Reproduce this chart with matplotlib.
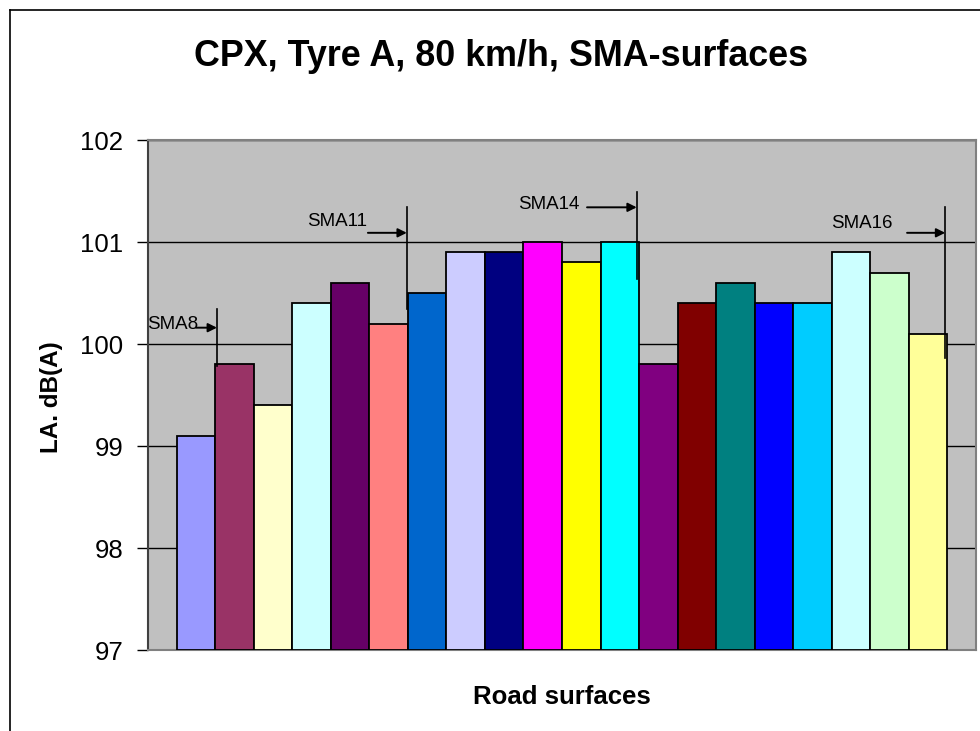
import matplotlib.pyplot as plt
from matplotlib.lines import Line2D

plt.rcParams["font.family"] = ["Liberation Sans", "DejaVu Sans"]

# CPX levels per road surface, Tyre A at 80 km/h
levels = [99.1, 99.8, 99.4, 100.4, 100.6, 100.2, 100.5, 100.9, 100.9, 101.0,
          100.8, 101.0, 99.8, 100.4, 100.6, 100.4, 100.4, 100.9, 100.7, 100.1]
colors = ["#9999FF", "#993366", "#FFFFCC", "#CCFFFF", "#660066", "#FF8080",
          "#0066CC", "#CCCCFF", "#000080", "#FF00FF", "#FFFF00", "#00FFFF",
          "#800080", "#800000", "#008080", "#0000FF", "#00CCFF", "#CCFFFF",
          "#CCFFCC", "#FFFF99"]
y_ticks = [97, 98, 99, 100, 101, 102]

# group markers: label, text anchor, arrow start, arrow end/line x, line span
groups = [
    ("SMA8", (-1.28, 100.19), (-0.0, 100.16), 0.54, (99.78, 100.34)),
    ("SMA11", (2.88, 101.20), (4.46, 101.09), 5.47, (100.34, 101.34)),
    ("SMA14", (8.36, 101.37), (10.15, 101.34), 11.44, (100.64, 101.49)),
    ("SMA16", (16.49, 101.18), (18.46, 101.09), 19.45, (99.86, 101.34)),
]

fig = plt.figure(figsize=(9.8, 7.31), dpi=100)
ax = fig.add_axes([148 / 980, 1 - 650 / 731, (976 - 148) / 980, (650 - 140) / 731])
ax.set_facecolor("#C0C0C0")

x = list(range(len(levels)))
ax.bar(x, [v - 97 for v in levels], bottom=97, width=1.0, color=colors,
       edgecolor="black", linewidth=1.3, zorder=3)

ax.set_xlim(-1.25, 20.25)
ax.set_ylim(97, 102)
ax.set_yticks(y_ticks)
ax.set_yticklabels([str(t) for t in y_ticks], fontsize=18.5)
ax.set_xticks([])
ax.yaxis.grid(True, color="black", linewidth=1.0, zorder=1)
ax.tick_params(axis="y", direction="out", length=8, width=1.0, pad=10)
for side in ["top", "right", "bottom"]:
    ax.spines[side].set_color("#808080")
    ax.spines[side].set_linewidth(1.5)
ax.spines["left"].set_color("#404040")
ax.spines["left"].set_linewidth(1.5)

for name, txt, a0, lx, (y0, y1) in groups:
    ax.text(txt[0], txt[1], name, fontsize=13.5, va="center", ha="left",
            zorder=5, clip_on=False)
    ax.annotate("", xy=(lx, a0[1]), xytext=a0,
                arrowprops=dict(arrowstyle="-|>", color="black", lw=1.4,
                                mutation_scale=13, shrinkA=0, shrinkB=0),
                zorder=5)
    ax.plot([lx, lx], [y0, y1], color="black", linewidth=1.2, zorder=4)

ax.set_ylabel("LA. dB(A)", fontsize=17.5, fontweight="bold")
ax.yaxis.set_label_coords(-0.116, 0.496)
ax.set_xlabel("Road surfaces", fontsize=18.5, fontweight="bold")
ax.xaxis.set_label_coords(0.5, -0.092)
ax.xaxis.label.set_va("center")
ax.yaxis.label.set_va("center")
fig.text(501 / 980, 1 - 57 / 731, "CPX, Tyre A, 80 km/h, SMA-surfaces",
         fontsize=25.8, fontweight="bold", ha="center", va="center")

# chart area border
fig.add_artist(Line2D([10 / 980, 10 / 980], [0, 1 - 10 / 731],
                      transform=fig.transFigure, color="black", linewidth=1.2))
fig.add_artist(Line2D([10 / 980, 1], [1 - 10 / 731, 1 - 10 / 731],
                      transform=fig.transFigure, color="black", linewidth=1.2))

fig.savefig("out.png", dpi=100)
